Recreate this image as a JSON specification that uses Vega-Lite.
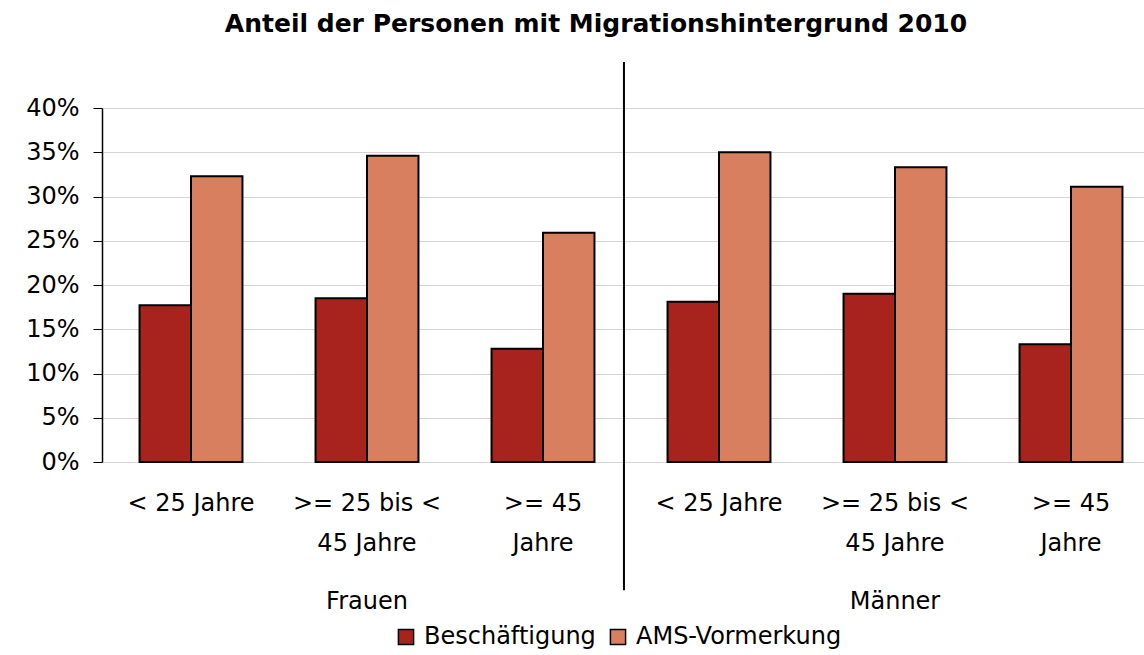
{
  "$schema": "https://vega.github.io/schema/vega-lite/v6.json",
  "width": 1042,
  "height": 354,
  "autosize": {"type": "none"},
  "padding": {"left": 102, "top": 108, "right": 0, "bottom": 193},
  "background": "white",
  "title": {
    "text": "Anteil der Personen mit Migrationshintergrund 2010",
    "font": "DejaVu Sans",
    "fontSize": 25,
    "fontWeight": "bold",
    "color": "black",
    "anchor": "middle",
    "dx": -27,
    "offset": 24
  },
  "config": {
    "view": {"stroke": null},
    "font": "DejaVu Sans"
  },
  "datasets": {
    "bars": [
      {"cat": "F1", "series": "Beschäftigung", "value": 0.177},
      {"cat": "F1", "series": "AMS-Vormerkung", "value": 0.323},
      {"cat": "F2", "series": "Beschäftigung", "value": 0.185},
      {"cat": "F2", "series": "AMS-Vormerkung", "value": 0.346},
      {"cat": "F3", "series": "Beschäftigung", "value": 0.128},
      {"cat": "F3", "series": "AMS-Vormerkung", "value": 0.259},
      {"cat": "M1", "series": "Beschäftigung", "value": 0.181},
      {"cat": "M1", "series": "AMS-Vormerkung", "value": 0.350},
      {"cat": "M2", "series": "Beschäftigung", "value": 0.190},
      {"cat": "M2", "series": "AMS-Vormerkung", "value": 0.333},
      {"cat": "M3", "series": "Beschäftigung", "value": 0.133},
      {"cat": "M3", "series": "AMS-Vormerkung", "value": 0.311}
    ],
    "divider": [
      {"cat": "F3", "top": 0.452, "bottom": -0.145}
    ],
    "groups": [
      {"cat": "F2", "label": "Frauen", "pos": -0.158},
      {"cat": "M2", "label": "Männer", "pos": -0.158}
    ]
  },
  "layer": [
    {
      "data": {"name": "bars"},
      "mark": {"type": "bar", "stroke": "black", "strokeWidth": 2},
      "encoding": {
        "x": {
          "field": "cat",
          "type": "nominal",
          "sort": ["F1", "F2", "F3", "M1", "M2", "M3"],
          "scale": {"paddingInner": 0, "paddingOuter": 0, "range": [1, 1057]},
          "axis": {
            "title": null,
            "labelAngle": 0,
            "domain": false,
            "ticks": false,
            "labelFontSize": 24,
            "labelColor": "black",
            "labelPadding": 29,
            "labelLineHeight": 40,
            "labelBaseline": "top",
            "labelExpr": "(datum.value == 'F1' || datum.value == 'M1') ? '< 25 Jahre' : ((datum.value == 'F2' || datum.value == 'M2') ? ['>= 25 bis <', '45 Jahre'] : ['>= 45', 'Jahre'])"
          }
        },
        "xOffset": {
          "field": "series",
          "type": "nominal",
          "sort": ["Beschäftigung", "AMS-Vormerkung"],
          "scale": {"paddingInner": 0, "paddingOuter": 0.71}
        },
        "y": {
          "field": "value",
          "type": "quantitative",
          "scale": {"domain": [0, 0.4], "nice": false},
          "axis": {
            "title": null,
            "format": ".0%",
            "values": [0, 0.05, 0.1, 0.15, 0.2, 0.25, 0.3, 0.35, 0.4],
            "labelFontSize": 24,
            "labelColor": "black",
            "labelPadding": 14,
            "domainColor": "black",
            "domainWidth": 1.5,
            "tickColor": "black",
            "tickSize": 9,
            "gridColor": "#d4d4d4",
            "gridWidth": 1.2
          }
        },
        "color": {
          "field": "series",
          "type": "nominal",
          "sort": ["Beschäftigung", "AMS-Vormerkung"],
          "scale": {"domain": ["Beschäftigung", "AMS-Vormerkung"], "range": ["#A9231E", "#D77F5E"]},
          "legend": {
            "title": null,
            "orient": "none",
            "legendX": 292,
            "legendY": 517,
            "direction": "horizontal",
            "symbolType": "square",
            "symbolSize": 230,
            "symbolStrokeColor": "black",
            "symbolStrokeWidth": 1.5,
            "labelFontSize": 24,
            "labelColor": "black",
            "labelLimit": 400,
            "columnPadding": 10,
            "labelOffset": 6
          }
        }
      }
    },
    {
      "data": {"name": "divider"},
      "mark": {"type": "rule", "color": "black", "strokeWidth": 2},
      "encoding": {
        "x": {"field": "cat", "type": "nominal", "bandPosition": 0.96},
        "y": {"field": "top", "type": "quantitative"},
        "y2": {"field": "bottom"}
      }
    },
    {
      "data": {"name": "groups"},
      "mark": {"type": "text", "fontSize": 24, "color": "black", "baseline": "middle"},
      "encoding": {
        "x": {"field": "cat", "type": "nominal"},
        "y": {"field": "pos", "type": "quantitative"},
        "text": {"field": "label"}
      }
    }
  ]
}
